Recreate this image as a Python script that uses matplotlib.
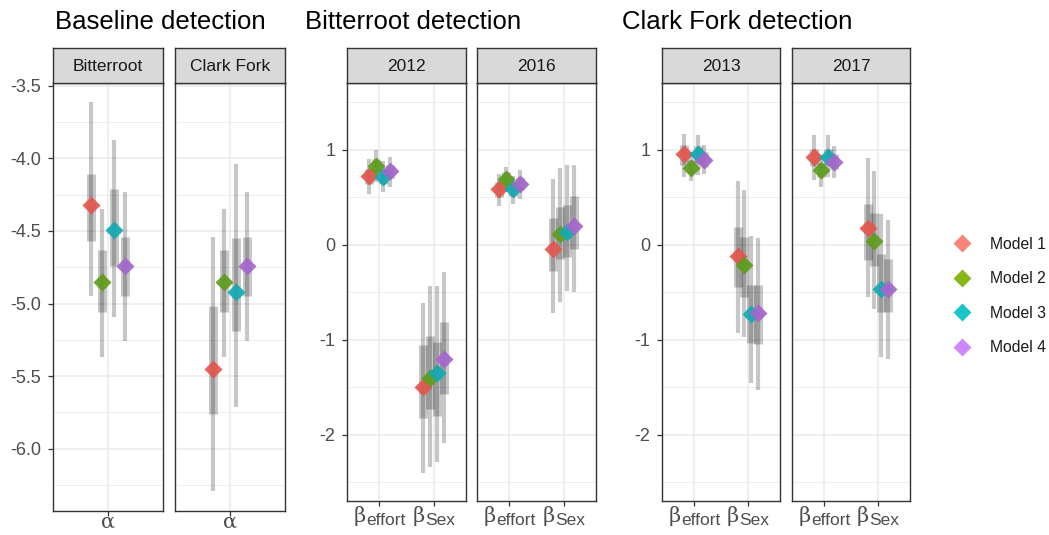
"""
Detection parameter estimates by model: baseline (alpha) and covariate
effects (beta) for the Bitterroot and Clark Fork rivers.
"""

import matplotlib
matplotlib.use("Agg")
import matplotlib.pyplot as plt
from matplotlib.lines import Line2D
from matplotlib.ticker import MultipleLocator

plt.rcParams["font.family"] = ["Liberation Sans", "DejaVu Sans"]
plt.rcParams["axes.unicode_minus"] = False

MODELS = ["Model 1", "Model 2", "Model 3", "Model 4"]
COLORS = ["#F8766D", "#7CAE00", "#00BFC4", "#C77CFF"]
POINT_COLORS = ["#E2564D", "#5E9C1C", "#12AAB1", "#A566CC"]

# each row: estimate, 50% low, 50% high, 95% low, 95% high (one row per model)
base_bitterroot = [
    [-4.32, -4.57, -4.11, -4.95, -3.61],
    [-4.85, -5.06, -4.63, -5.37, -4.35],
    [-4.49, -4.74, -4.21, -5.09, -3.87],
    [-4.74, -4.95, -4.54, -5.26, -4.23],
]
base_clarkfork = [
    [-5.45, -5.76, -5.02, -6.29, -4.54],
    [-4.85, -5.06, -4.63, -5.37, -4.35],
    [-4.92, -5.19, -4.55, -5.71, -4.04],
    [-4.74, -4.95, -4.54, -5.26, -4.23],
]

br2012_effort = [
    [0.72, 0.64, 0.80, 0.53, 0.90],
    [0.83, 0.76, 0.90, 0.66, 0.99],
    [0.71, 0.64, 0.79, 0.55, 0.88],
    [0.77, 0.70, 0.84, 0.61, 0.92],
]
br2012_sex = [
    [-1.50, -1.83, -1.06, -2.40, -0.62],
    [-1.41, -1.73, -0.96, -2.34, -0.44],
    [-1.35, -1.80, -1.03, -2.29, -0.44],
    [-1.20, -1.57, -0.82, -2.09, -0.29],
]
br2016_effort = [
    [0.58, 0.50, 0.66, 0.41, 0.74],
    [0.69, 0.63, 0.76, 0.55, 0.82],
    [0.58, 0.51, 0.65, 0.43, 0.72],
    [0.64, 0.57, 0.71, 0.48, 0.78],
]
br2016_sex = [
    [-0.05, -0.28, 0.28, -0.72, 0.69],
    [0.11, -0.15, 0.40, -0.60, 0.81],
    [0.13, -0.13, 0.42, -0.49, 0.84],
    [0.20, -0.05, 0.51, -0.50, 0.84],
]

cf2013_effort = [
    [0.95, 0.84, 1.05, 0.71, 1.16],
    [0.81, 0.75, 0.89, 0.67, 0.97],
    [0.95, 0.85, 1.04, 0.73, 1.15],
    [0.89, 0.82, 0.97, 0.74, 1.05],
]
cf2013_sex = [
    [-0.12, -0.45, 0.18, -0.93, 0.67],
    [-0.22, -0.55, 0.08, -0.97, 0.57],
    [-0.73, -1.04, -0.43, -1.46, 0.09],
    [-0.72, -1.05, -0.43, -1.53, 0.07],
]
cf2017_effort = [
    [0.92, 0.83, 1.01, 0.68, 1.15],
    [0.78, 0.71, 0.86, 0.61, 0.94],
    [0.92, 0.84, 1.01, 0.71, 1.15],
    [0.87, 0.80, 0.95, 0.70, 1.04],
]
cf2017_sex = [
    [0.17, -0.16, 0.43, -0.55, 0.91],
    [0.04, -0.23, 0.33, -0.68, 0.77],
    [-0.47, -0.71, -0.10, -1.18, 0.32],
    [-0.47, -0.71, -0.15, -1.20, 0.26],
]

# x labels: (greek letter, subscript)
ALPHA_LABELS = [("α", "")]
BETA_LABELS = [("β", "effort"), ("β", "Sex")]

W, H = 1049, 535
DODGE = [-0.1875, -0.0625, 0.0625, 0.1875]
SERIF = ["DejaVu Serif"]

fig = plt.figure(figsize=(W / 100, H / 100), dpi=100)
fig.patch.set_facecolor("white")
renderer = fig.canvas.get_renderer()


def px_axes(x0, x1, y0, y1):
    return fig.add_axes([x0 / W, 1 - y1 / H, (x1 - x0) / W, (y1 - y0) / H])


def greek_label(ax, x, greek, sub, drop):
    """Greek letter in serif with a sans subscript, centred on the tick."""
    kw = dict(xycoords=("data", "axes fraction"), textcoords="offset points",
              va="baseline", ha="left", color="#4D4D4D")
    g = ax.annotate(greek, (x, 0), xytext=(0, 0), fontsize=15, family=SERIF,
                    fontweight="light", **kw)
    s = ax.annotate(sub, (x, 0), xytext=(0, 0), fontsize=12.5, **kw)
    wg = g.get_window_extent(renderer).width * 0.72
    ws = s.get_window_extent(renderer).width * 0.72 if sub else 0
    left = -(wg + ws) / 2
    g.set_position((left, -drop * 0.72))
    s.set_position((left + wg + 0.3, -(drop + 3) * 0.72))


def draw_facet(x0, x1, bottom, strip, params, labels, ylim, major, minor, show_y, drop):
    ax = px_axes(x0, x1, 83, bottom)

    # interval bars first, then the points on top
    for i, rows in enumerate(params):
        for m, (est, ilo, ihi, olo, ohi) in enumerate(rows):
            x = i + 1 + DODGE[m]
            ax.vlines(x, olo, ohi, color="black", alpha=0.22, lw=3.0, zorder=2)
            ax.vlines(x, ilo, ihi, color="black", alpha=0.22, lw=6.5, zorder=2)
    for i, rows in enumerate(params):
        for m, row in enumerate(rows):
            ax.plot(i + 1 + DODGE[m], row[0], marker="D", ms=9, color=POINT_COLORS[m],
                    alpha=0.92, mec="none", zorder=3)

    ax.set_xlim(0.4, len(params) + 0.6)
    ax.set_ylim(*ylim)
    ax.set_xticks(range(1, len(params) + 1))
    ax.set_xticklabels([])
    for i, (greek, sub) in enumerate(labels):
        greek_label(ax, i + 1, greek, sub, drop)
    ax.yaxis.set_major_locator(MultipleLocator(major))
    ax.yaxis.set_minor_locator(MultipleLocator(minor))
    ax.grid(which="major", color="#EBEBEB", lw=1.1)
    ax.grid(which="minor", axis="y", color="#EBEBEB", lw=0.6)
    ax.set_axisbelow(True)
    ax.tick_params(which="major", direction="out", length=3.5, width=0.9,
                   color="#333333", labelsize=13, labelcolor="#4D4D4D", pad=5)
    ax.tick_params(which="minor", length=0)
    if not show_y:
        ax.tick_params(axis="y", length=0, labelleft=False)
    for sp in ax.spines.values():
        sp.set_color("#333333")
        sp.set_linewidth(1.0)

    sax = px_axes(x0, x1, 48, 83)
    sax.set_facecolor("#D9D9D9")
    sax.set_xticks([])
    sax.set_yticks([])
    for sp in sax.spines.values():
        sp.set_color("#333333")
        sp.set_linewidth(1.0)
    sax.text(0.5, 0.48, strip, ha="center", va="center", fontsize=12.5,
             color="#1A1A1A", transform=sax.transAxes)
    return ax


base_ylim = (-6.43, -3.48)
beta_ylim = (-2.70, 1.70)

draw_facet(53, 163, 511, "Bitterroot", [base_bitterroot], ALPHA_LABELS,
           base_ylim, 0.5, 0.25, True, 17)
draw_facet(175, 285, 511, "Clark Fork", [base_clarkfork], ALPHA_LABELS,
           base_ylim, 0.5, 0.25, False, 17)

draw_facet(347, 466, 501, "2012", [br2012_effort, br2012_sex], BETA_LABELS,
           beta_ylim, 1, 0.5, True, 21)
draw_facet(477, 596, 501, "2016", [br2016_effort, br2016_sex], BETA_LABELS,
           beta_ylim, 1, 0.5, False, 21)

draw_facet(662, 780, 501, "2013", [cf2013_effort, cf2013_sex], BETA_LABELS,
           beta_ylim, 1, 0.5, True, 21)
draw_facet(792, 910, 501, "2017", [cf2017_effort, cf2017_sex], BETA_LABELS,
           beta_ylim, 1, 0.5, False, 21)

fig.text(55 / W, 1 - 22 / H, "Baseline detection", fontsize=18.5, va="center")
fig.text(305 / W, 1 - 22 / H, "Bitterroot detection", fontsize=18.5, va="center")
fig.text(622 / W, 1 - 22 / H, "Clark Fork detection", fontsize=18.5, va="center")

handles = [Line2D([], [], ls="none", marker="D", ms=9, color=c, alpha=0.9, mec="none")
           for c in COLORS]
fig.legend(handles, MODELS, loc="center left", bbox_to_anchor=(941 / W, 1 - 296 / H),
           frameon=False, fontsize=11.3, handlelength=1.25, handletextpad=1.15,
           labelspacing=1.25, labelcolor="#1A1A1A", borderpad=0.2)

fig.savefig("out.png", dpi=100)
plt.close(fig)
